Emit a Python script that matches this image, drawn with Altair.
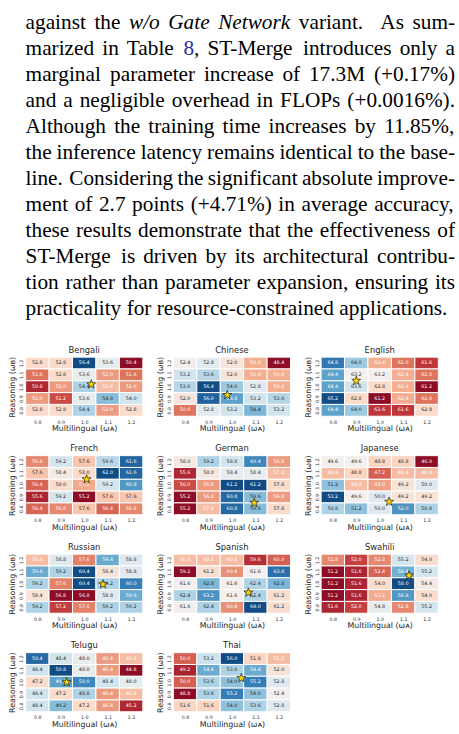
import re
import altair as alt
import pandas as pd

# ---------------- paragraph text ----------------
LINES = [
    "against the _w/o_ _Gate_ _Network_ variant. As sum-",
    "marized in Table {8}, ST-Merge introduces only a",
    "marginal parameter increase of 17.3M (+0.17%)",
    "and a negligible overhead in FLOPs (+0.0016%).",
    "Although the training time increases by 11.85%,",
    "the inference latency remains identical to the base-",
    "line. Considering the significant absolute improve-",
    "ment of 2.7 points (+4.71%) in average accuracy,",
    "these results demonstrate that the effectiveness of",
    "ST-Merge is driven by its architectural contribu-",
    "tion rather than parameter expansion, ensuring its",
    "practicality for resource-constrained applications.",
]

# ---------------- heatmap data (rows: reasoning 1.2 -> 0.8, cols: multilingual 0.8 -> 1.2)
MULTI_LEVELS = [0.8, 0.9, 1.0, 1.1, 1.2]
REASON_LEVELS = [1.2, 1.1, 1.0, 0.9, 0.8]
LANGS = ["Bengali", "Chinese", "English", "French", "German", "Japanese",
         "Russian", "Spanish", "Swahili", "Telugu", "Thai"]

BENGALI = [[52.8, 52.8, 56.4, 53.6, 50.4],
           [51.6, 52.8, 53.6, 52.0, 51.6],
           [50.8, 52.0, 54.4, 52.4, 52.0],
           [52.0, 51.2, 53.6, 54.8, 54.0],
           [52.8, 52.8, 54.4, 52.0, 52.8]]
CHINESE = [[52.4, 52.8, 52.0, 50.8, 48.4],
           [53.2, 53.6, 52.0, 50.8, 50.8],
           [53.6, 56.4, 54.0, 52.8, 50.8],
           [52.0, 56.0, 54.8, 53.2, 53.6],
           [50.0, 52.8, 53.2, 54.4, 53.2]]
ENGLISH = [[64.8, 64.0, 62.4, 62.0, 61.6],
           [64.4, 63.2, 63.2, 62.4, 62.0],
           [64.4, 63.6, 62.8, 62.4, 61.2],
           [65.2, 62.8, 61.2, 62.4, 62.0],
           [64.4, 64.0, 61.6, 61.6, 62.8]]
FRENCH = [[56.8, 59.2, 57.6, 59.6, 61.6],
          [57.6, 58.4, 58.0, 62.0, 61.6],
          [56.4, 58.0, 57.2, 59.2, 60.8],
          [55.6, 59.2, 55.2, 57.6, 57.6],
          [56.4, 56.8, 57.6, 56.4, 56.8]]
GERMAN = [[58.0, 59.2, 58.8, 60.4, 56.8],
          [55.6, 58.0, 58.4, 58.4, 57.2],
          [56.0, 56.8, 61.2, 61.2, 57.6],
          [55.2, 56.8, 60.8, 59.6, 56.8],
          [55.2, 57.2, 60.8, 59.6, 57.6]]
JAPANESE = [[49.6, 49.6, 48.8, 48.8, 46.0],
            [48.4, 48.8, 47.2, 48.4, 48.4],
            [51.2, 48.4, 48.0, 49.2, 50.0],
            [53.2, 49.6, 50.0, 49.2, 49.2],
            [50.8, 51.2, 50.0, 52.0, 50.8]]
RUSSIAN = [[58.0, 58.8, 57.6, 59.6, 58.8],
           [59.6, 59.2, 60.4, 58.4, 58.8],
           [59.2, 57.6, 60.4, 59.2, 60.0],
           [58.4, 56.8, 56.8, 58.8, 59.6],
           [59.2, 57.2, 57.6, 59.2, 59.2]]
SPANISH = [[60.8, 60.8, 60.8, 59.6, 60.0],
           [59.2, 61.2, 60.4, 61.6, 63.6],
           [61.6, 62.8, 61.6, 62.4, 62.8],
           [62.4, 63.2, 61.6, 62.4, 61.2],
           [61.6, 62.4, 60.4, 64.0, 61.2]]
SWAHILI = [[52.8, 52.0, 52.8, 55.2, 54.0],
           [51.2, 51.6, 52.4, 56.4, 55.2],
           [51.2, 51.6, 54.0, 58.0, 54.4],
           [51.2, 51.6, 53.2, 56.8, 54.0],
           [51.6, 52.0, 54.8, 52.8, 55.2]]
TELUGU = [[50.4, 48.4, 48.0, 46.4, 46.8],
          [48.4, 50.8, 48.0, 46.4, 44.8],
          [47.2, 49.6, 50.0, 48.4, 48.0],
          [48.4, 47.2, 48.8, 46.4, 46.8],
          [48.4, 49.2, 47.2, 46.4, 45.2]]
THAI = [[50.0, 53.2, 56.0, 51.6, 51.2],
        [49.2, 54.4, 53.6, 54.4, 52.0],
        [50.0, 53.6, 54.0, 55.2, 52.8],
        [48.8, 53.6, 55.2, 54.0, 52.4],
        [51.6, 51.6, 54.0, 53.6, 52.8]]
GRIDS = [BENGALI, CHINESE, ENGLISH, FRENCH, GERMAN, JAPANESE,
         RUSSIAN, SPANISH, SWAHILI, TELUGU, THAI]

# optimum markers (omega_A, omega_B)
STAR_A = [1.03, 0.98, 0.90, 1.01, 1.095, 1.04, 1.08, 1.07, 1.125, 0.925, 1.04]
STAR_B = [1.02, 0.93, 1.05, 1.05, 0.85, 0.86, 0.995, 0.925, 1.07, 1.0, 1.035]

# ---------------- paragraph layout (Times metrics ~ Liberation Serif) --------
REG = {' ': 250, '!': 333, '%': 833, '(': 333, ')': 333, '+': 564, ',': 250, '-': 333,
       '.': 250, '/': 278, ':': 278, ';': 278}
for d in "0123456789":
    REG[d] = 500
REG.update(dict(zip("ABCDEFGHIJKLMNOPQRSTUVWXYZ",
                    [722, 667, 667, 722, 611, 556, 722, 722, 333, 389, 722, 611, 889,
                     722, 722, 556, 722, 667, 556, 611, 722, 722, 944, 722, 722, 611])))
REG.update(dict(zip("abcdefghijklmnopqrstuvwxyz",
                    [444, 500, 444, 500, 444, 333, 500, 500, 278, 278, 500, 278, 778,
                     500, 500, 500, 500, 333, 389, 278, 500, 500, 722, 500, 500, 444])))
ITAL = dict(REG)
ITAL.update({'w': 667, '/': 278, 'o': 500, 'G': 722, 'a': 500, 't': 278, 'e': 444,
             'N': 667, 'r': 389, 'k': 444})

FS = 21.6
TARGET = 436.0
BASE0 = 23.5
LEAD = 26.4
SERIF = "Liberation Serif"


def tw(text, style):
    tab = ITAL if style == "italic" else REG
    return sum(tab.get(c, 500) for c in text) * FS / 1000.0


TOKEN = re.compile(r"_([^_]+)_|\{([^}]+)\}|([^_{]+)")
recs = []
for li, line in enumerate(LINES):
    words = line.split(" ")
    parsed = []
    for w in words:
        parts = []
        for m in TOKEN.finditer(w):
            if m.group(1):
                parts.append((m.group(1), "italic"))
            elif m.group(2):
                parts.append((m.group(2), "link"))
            else:
                parts.append((m.group(3), "normal"))
        parsed.append(parts)
    widths = [sum(tw(t, s) for t, s in p) for p in parsed]
    gaps, wts = [], []
    for k in range(len(words) - 1):
        per = words[k].endswith(".")
        gaps.append(tw(" ", "normal") * (1.4 if per else 1.0))
        wts.append(3.0 if per else 1.0)
    if li < len(LINES) - 1:
        extra = TARGET - sum(widths) - sum(gaps)
        if extra < 0:
            wts = [1.0] * len(wts)
        gaps = [g + extra * wt / sum(wts) for g, wt in zip(gaps, wts)]
    x = 0.0
    y = BASE0 + li * LEAD
    for k, parts in enumerate(parsed):
        for t, s in parts:
            recs.append({"x": x, "y": y, "text": t, "style": s})
            x += tw(t, s)
        if k < len(gaps):
            x += gaps[k]
para_df = pd.DataFrame(recs)

pbase = alt.Chart(para_df).encode(
    x=alt.X("x:Q", scale=None, axis=None),
    y=alt.Y("y:Q", scale=None, axis=None),
    text="text:N",
)
ptext = dict(align="left", baseline="alphabetic", font=SERIF, fontSize=FS)
paragraph = alt.layer(
    pbase.transform_filter("datum.style == 'normal'").mark_text(color="black", **ptext),
    pbase.transform_filter("datum.style == 'italic'").mark_text(color="black", fontStyle="italic", **ptext),
    pbase.transform_filter("datum.style == 'link'").mark_text(color="#2b2ba0", **ptext),
).properties(width=440, height=326)

# ---------------- heatmaps ----------------
STAR_PATH = ("M0,-1L0.235,-0.324L0.951,-0.309L0.38,0.124L0.588,0.809L0,0.4"
             "L-0.588,0.809L-0.38,0.124L-0.951,-0.309L-0.235,-0.324Z")

XAX = alt.Axis(values=MULTI_LEVELS, format=".1f", title="Multilingual (ωᴀ)",
               labelPadding=3, titlePadding=1)
YAX = alt.Axis(values=MULTI_LEVELS, format=".1f", title="Reasoning (ωʙ)",
               labelAngle=270, labelAlign="center", labelBaseline="bottom",
               labelPadding=2, titlePadding=2)
SC = alt.Scale(domain=[0.75, 1.25], nice=False, zero=False)


def panel(name, grid, sa, sb):
    rows = []
    for i, yv in enumerate(REASON_LEVELS):
        for j, xv in enumerate(MULTI_LEVELS):
            rows.append({"wa": xv, "wb": yv, "acc": grid[i][j]})
    df = pd.DataFrame(rows)
    lo, hi = float(df.acc.min()), float(df.acc.max())
    base = alt.Chart(df).transform_calculate(
        xa="datum.wa - 0.05", xb="datum.wa + 0.05",
        ya="datum.wb - 0.05", yb="datum.wb + 0.05",
        norm=f"(datum.acc - {lo}) / ({hi - lo})",
    )
    rect = base.mark_rect(stroke="white", strokeWidth=1).encode(
        x=alt.X("xa:Q", scale=SC, axis=XAX), x2="xb:Q",
        y=alt.Y("ya:Q", scale=SC, axis=YAX), y2="yb:Q",
        color=alt.Color("acc:Q", scale=alt.Scale(scheme="redblue", domain=[lo, hi]), legend=None),
    )
    txt = base.mark_text(font="DejaVu Sans", fontSize=4.9).encode(
        x=alt.X("wa:Q", scale=SC, axis=XAX),
        y=alt.Y("wb:Q", scale=SC, axis=YAX),
        text=alt.Text("acc:Q", format=".1f"),
        color=alt.condition("datum.norm < 0.35 || datum.norm > 0.75",
                            alt.value("white"), alt.value("#262626")),
    )
    star = alt.Chart(pd.DataFrame({"wa": [sa], "wb": [sb]})).mark_point(
        shape=STAR_PATH, filled=True, fill="#FFD700", stroke="black",
        strokeWidth=0.6, size=90, opacity=1,
    ).encode(
        x=alt.X("wa:Q", scale=SC, axis=XAX),
        y=alt.Y("wb:Q", scale=SC, axis=YAX),
    )
    return alt.layer(rect, txt, star).properties(
        width=119, height=60, title=alt.TitleParams(name))


panels = [panel(n, g, a, b) for n, g, a, b in zip(LANGS, GRIDS, STAR_A, STAR_B)]
grid = alt.concat(*panels, columns=3, spacing={"row": 11, "column": 12}).resolve_scale(
    color="independent")

chart = alt.vconcat(paragraph, grid, spacing=19).resolve_scale(color="independent").properties(
    padding={"left": 8, "top": 0, "right": 0, "bottom": 0},
    background="white",
).configure_view(stroke=None).configure_axis(
    domain=False, ticks=False, grid=False,
    labelFont="DejaVu Sans", titleFont="DejaVu Sans",
    labelFontSize=4.8, titleFontSize=8, titleFontWeight="normal",
    labelColor="#333333", titleColor="#262626",
).configure_title(
    font="DejaVu Sans", fontSize=8.5, fontWeight="normal", color="#262626", offset=2,
)

chart.save("out.html", embed_options={"renderer": "svg", "actions": False})
